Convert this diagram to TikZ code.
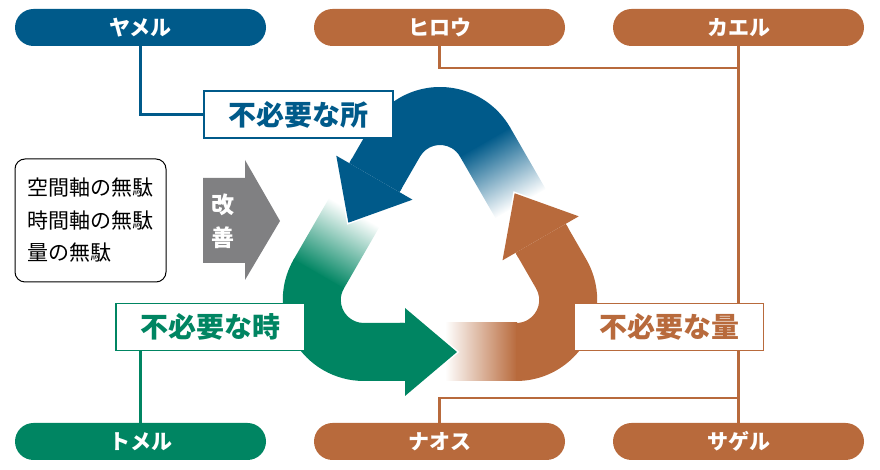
\documentclass[tikz,border=0pt]{standalone}
\usepackage{fontspec}
\newfontfamily\jp{Noto Sans CJK JP}
\definecolor{cblue}{HTML}{005A8A}
\definecolor{corange}{HTML}{B86A3C}
\definecolor{cgreen}{HTML}{008562}
\definecolor{cgray}{HTML}{808082}
\newcommand\rbody[2]{%
 \begin{scope}[transform canvas={shift={(440pt,214pt)},rotate=#2}]
   \shade[left color=white, right color=#1] (5,-125) rectangle (77,-67);
   \fill[#1] (76.2,-125) arc[start angle=-90, end angle=30, radius=81] -- (125.75,32.18) -- (75.52,3.18) -- (96.12,-32.5) arc[start angle=30, end angle=-90, radius=23] -- cycle;
 \end{scope}}
\newcommand\rhead[2]{%
 \begin{scope}[transform canvas={shift={(440pt,214pt)},rotate=#2}]
   \draw[white, line width=3pt, line join=miter] (62.53,-4.32) -- (74.63,62.71) -- (138.74,39.68) -- cycle;
   \fill[#1] (62.53,-4.32) -- (74.63,62.71) -- (138.74,39.68) -- cycle;
   \fill[#1] (78.12,-1.32) -- (128.35,27.68) -- (125.75,32.18) -- (75.52,3.18) -- cycle;
 \end{scope}}
\begin{document}
\begin{tikzpicture}[x=1pt,y=1pt,
 pill/.style={rounded corners=18.5pt, minimum width=251pt, minimum height=37pt, inner sep=0pt, font=\jp\bfseries\fontsize{21}{21}\selectfont, text=white},
 lab/.style={draw, line width=1.3pt, fill=white, minimum width=189pt, minimum height=47pt, inner sep=0pt, font=\jp\bfseries\fontsize{28}{28}\selectfont},
 conn/.style={line width=2.2pt}]
\useasboundingbox (0,0) rectangle (880,470);
% pills
\node[pill, fill=cblue] (yameru) at (140.5,442.5) {ヤメル};
\node[pill, fill=corange] (hirou) at (439.5,442.5) {ヒロウ};
\node[pill, fill=corange] (kaeru) at (738.5,442.5) {カエル};
\node[pill, fill=cgreen] (tomeru) at (140.5,28.5) {トメル};
\node[pill, fill=corange] (naosu) at (439.5,28.5) {ナオス};
\node[pill, fill=corange] (sageru) at (738.5,28.5) {サゲル};
% recycle symbol
\rbody{corange}{0}
\rbody{cblue}{120}
\rbody{cgreen}{240}
\rhead{corange}{0}
\rhead{cblue}{120}
\rhead{cgreen}{240}
% label boxes
\node[lab, draw=cblue, text=cblue] (tokoro) at (298.5,355.5) {不必要な所};
\node[lab, draw=cgreen, text=cgreen] (toki) at (210.5,143) {不必要な時};
\coordinate (hc) at (738.5,402);
\coordinate (nc) at (738.5,72);
% connectors
\draw[conn, cblue] (yameru.south) |- (tokoro.west);
\draw[conn, corange] (hirou.south) |- (hc);
\draw[conn, corange] (kaeru.south) -- (sageru.north);
\draw[conn, corange] (naosu.north) |- (nc);
\draw[conn, cgreen] (tomeru.north) -- (tomeru.north |- toki.south);
\node[lab, draw=corange, text=corange] (ryou) at (669,143) {不必要な量};
% left box
\node[draw, rounded corners=10pt, line width=1pt, minimum width=151pt, minimum height=123pt, align=left, font=\jp\fontsize{21}{32.5}\selectfont] (muda) at (90.5,249.5) {空間軸の無駄\\時間軸の無駄\\量の無駄};
% gray arrow
\fill[cgray] (203,207) -- (245,207) -- (245,190) -- (280,249) -- (245,310) -- (245,292) -- (203,292) -- cycle;
\node[font=\jp\bfseries\fontsize{23}{33}\selectfont, text=white, align=center, inner sep=0pt] (kaizen) at (223,249) {改\\善};
\end{tikzpicture}
\end{document}
